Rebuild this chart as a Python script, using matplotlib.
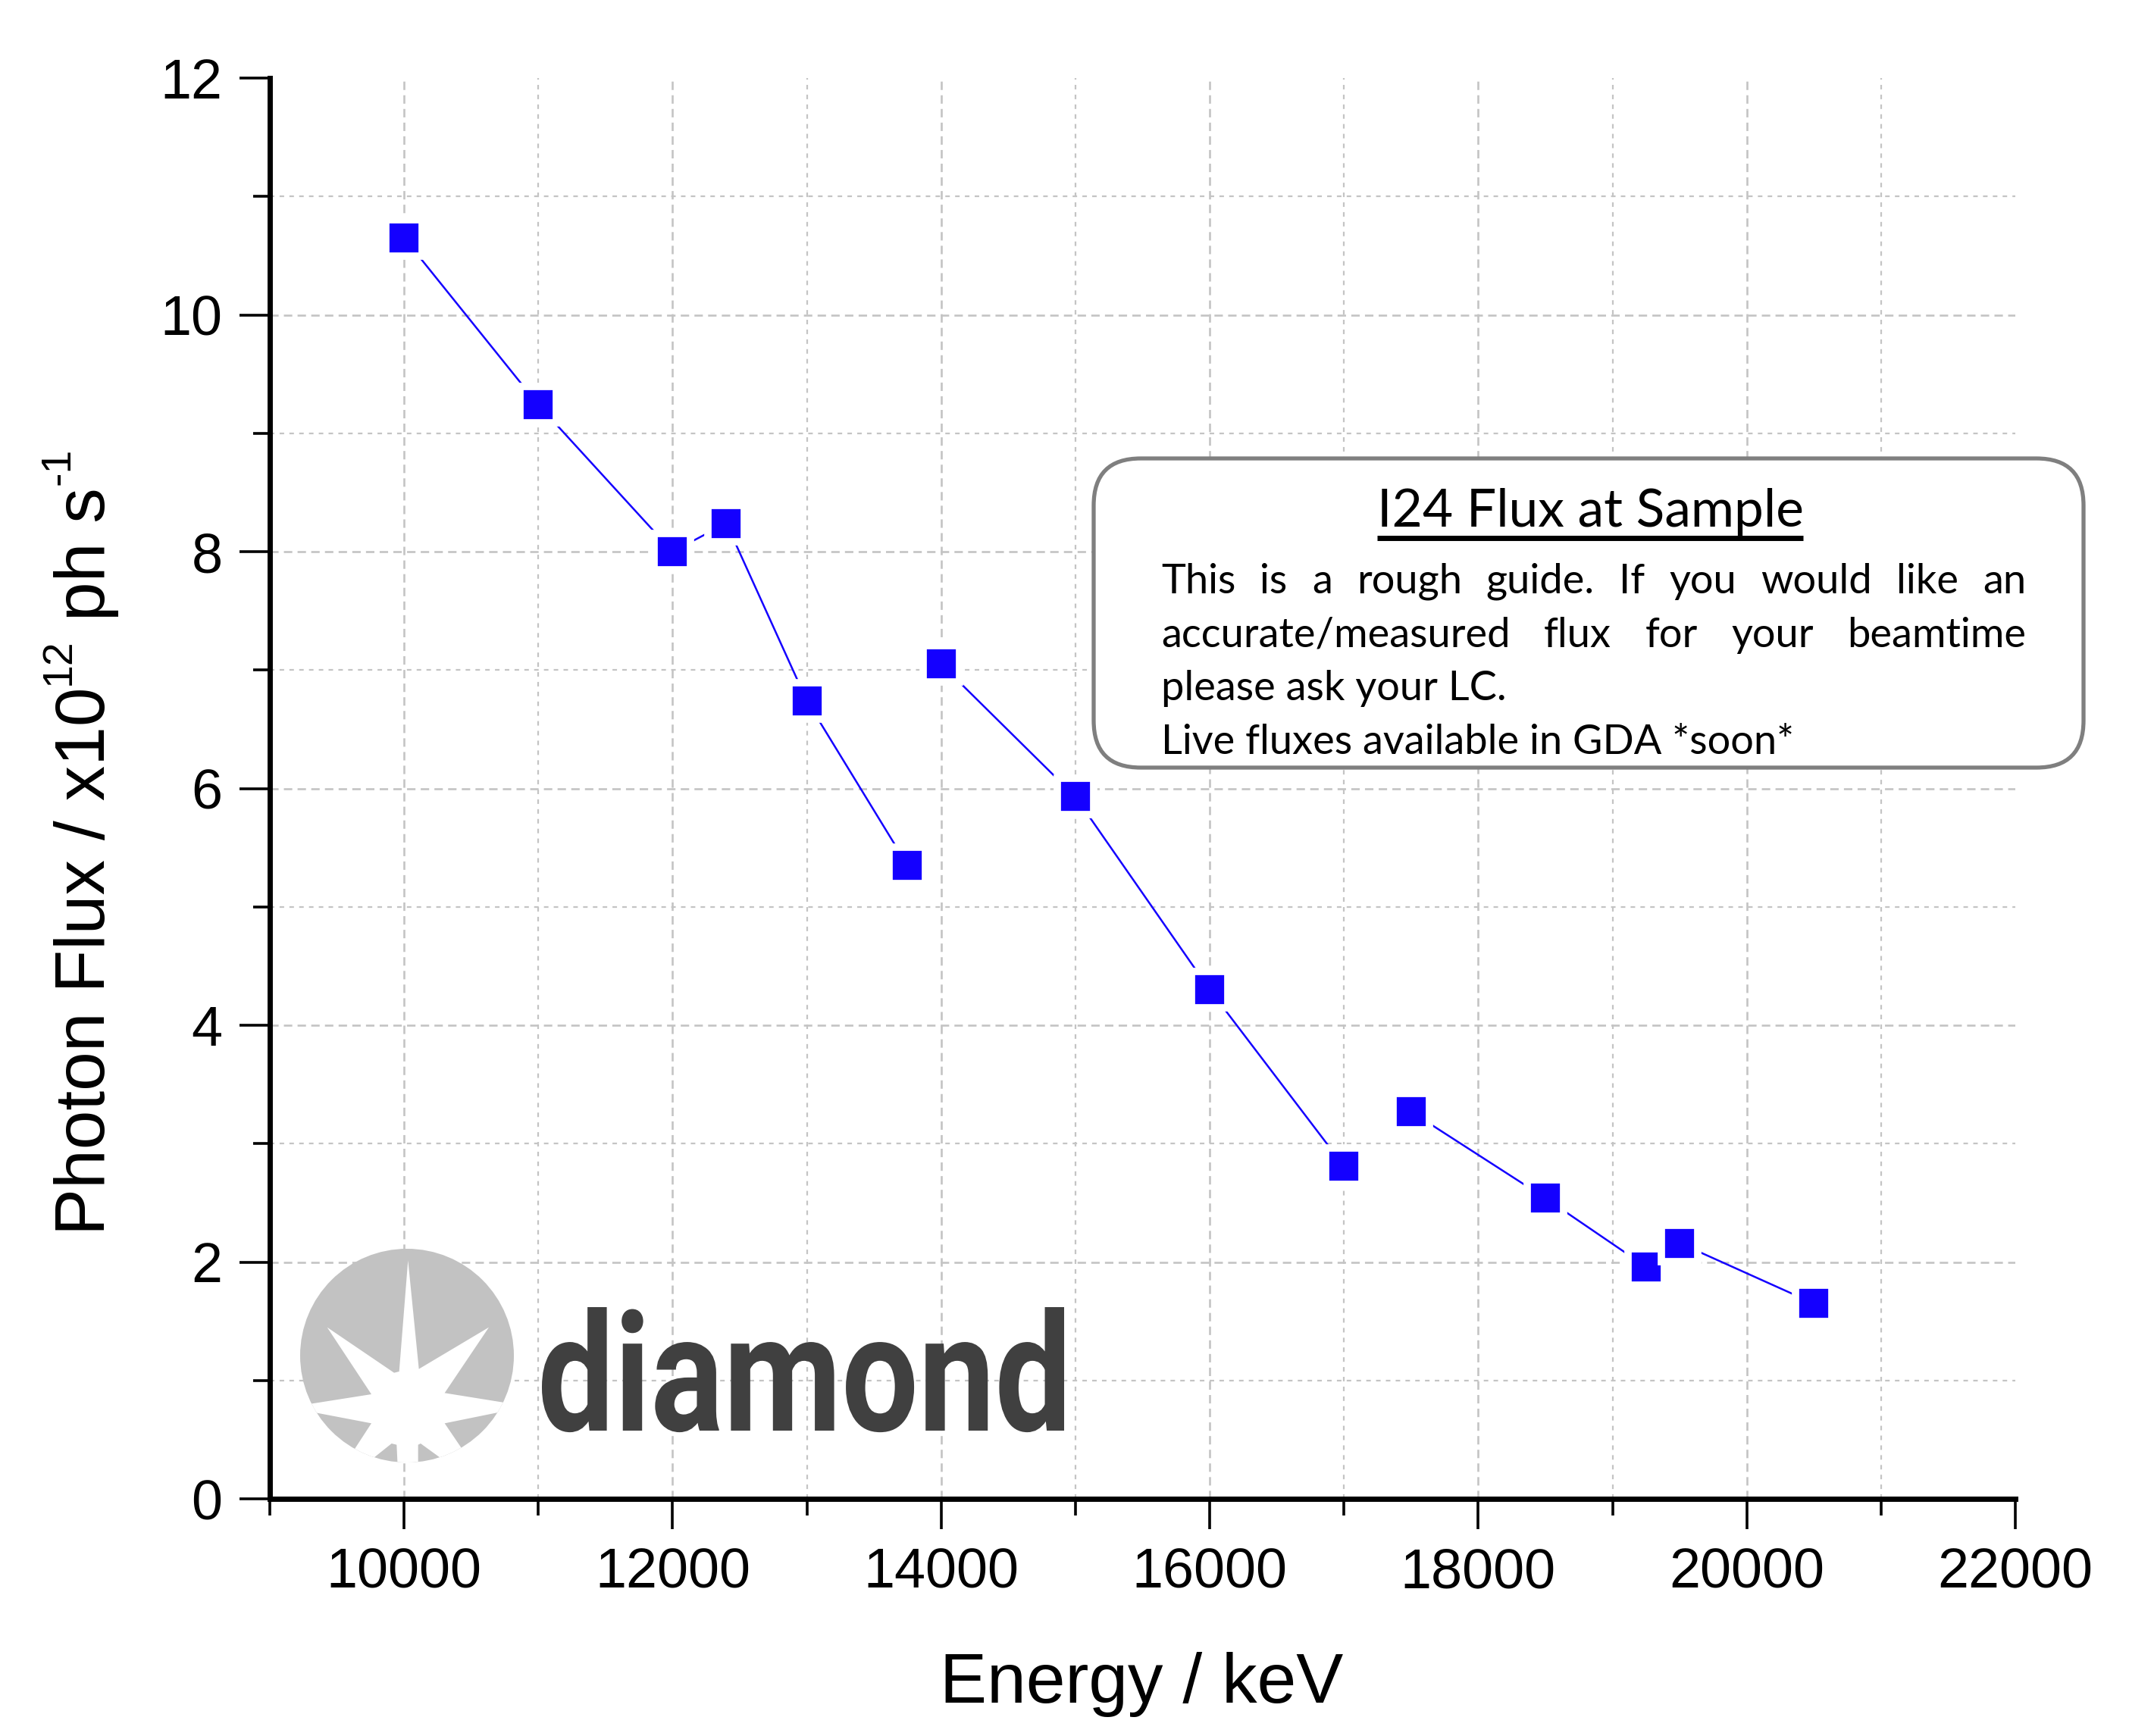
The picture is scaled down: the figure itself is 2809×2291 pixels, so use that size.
import numpy as np
import matplotlib
matplotlib.use("Agg")
import matplotlib.pyplot as plt
from matplotlib.patches import FancyBboxPatch, Circle, Polygon, PathPatch
from matplotlib.textpath import TextPath
from matplotlib.font_manager import FontProperties
from matplotlib.ticker import MultipleLocator
from matplotlib.transforms import Affine2D

# values
energy = [10000, 11000, 12000, 12400, 13000, 13750,
          14000, 15000, 16000, 17000,
          17500, 18500, 19250, 19500, 20500]
flux = [10.65, 9.24, 8.00, 8.24, 6.74, 5.35,
        7.05, 5.93, 4.30, 2.81,
        3.27, 2.54, 1.96, 2.16, 1.65]
segment = [0, 0, 0, 0, 0, 0, 1, 1, 1, 1, 2, 2, 2, 2, 2]

# y label pieces: (text, is_superscript)
ylabel_parts = [("Photon Flux / x10", False), ("12", True),
                (" ph s", False), ("-1", True)]

box_title = "I24 Flux at Sample"
box_lines = ["This is a rough guide. If you would like an",
             "accurate/measured flux for your beamtime",
             "please ask your LC.",
             "Live fluxes available in GDA *soon*"]
box_justify = [True, True, False, False]

W, H = 2809, 2291
plt.rcParams['font.family'] = ['Liberation Sans', 'DejaVu Sans']
plt.rcParams['lines.scale_dashes'] = False

fig = plt.figure(figsize=(W / 100, H / 100), dpi=100)
ax = fig.add_axes([356 / W, (H - 1978) / H, 2303 / W, 1875 / H])

ax.set_xlim(9000, 22000)
ax.set_ylim(0, 12)
ax.xaxis.set_major_locator(MultipleLocator(2000))
ax.xaxis.set_minor_locator(MultipleLocator(1000))
ax.yaxis.set_major_locator(MultipleLocator(2))
ax.yaxis.set_minor_locator(MultipleLocator(1))

# grid only on the inner ticks (none on the frame edges)
grid_col = '#c4c4c4'
for xv in np.arange(10000, 22000, 1000):
    if xv % 2000 == 0:
        ax.axvline(xv, color=grid_col, lw=1.9, ls=(0, (8, 5)), zorder=0)
    else:
        ax.axvline(xv, color=grid_col, lw=1.6, ls=(0, (4.3, 5)), zorder=0)
for yv in np.arange(1, 12, 1):
    if yv % 2 == 0:
        ax.axhline(yv, color=grid_col, lw=1.9, ls=(0, (8, 5)), zorder=0)
    else:
        ax.axhline(yv, color=grid_col, lw=1.6, ls=(0, (4.3, 5)), zorder=0)

e = np.array(energy)
f = np.array(flux)
s = np.array(segment)
for k in np.unique(s):
    m = s == k
    ax.plot(e[m], f[m], color='#1400ff', lw=1.8, marker='s', ms=35,
            mfc='#1400ff', mec='white', mew=7, zorder=3)

for sp in ['top', 'right']:
    ax.spines[sp].set_visible(False)
for sp in ['left', 'bottom']:
    ax.spines[sp].set_linewidth(5)
ax.tick_params(which='major', direction='out', length=29, width=2.6,
               labelsize=53)
ax.tick_params(which='minor', direction='out', length=16, width=2.6)
ax.tick_params(axis='x', which='major', pad=17)
ax.tick_params(axis='y', which='major', pad=16)

# overlay in pixel coordinates for labels, note box and logo
ov = fig.add_axes([0, 0, 1, 1], zorder=5)
ov.set_xlim(0, W)
ov.set_ylim(H, 0)
ov.axis('off')
ov.patch.set_alpha(0)
renderer = fig.canvas.get_renderer()

ov.text(1506, 2247, "Energy / keV", fontsize=67, ha='center', va='baseline')

# rotated y label built from pieces so the superscripts match
yl = 1630
for txt, sup in ylabel_parts:
    if sup:
        o = ov.text(92, yl - 3, txt, fontsize=40, rotation=90,
                    rotation_mode='anchor', ha='left', va='baseline')
    else:
        o = ov.text(138, yl, txt, fontsize=67, rotation=90,
                    rotation_mode='anchor', ha='left', va='baseline')
    yl -= o.get_window_extent(renderer).height

# note box
box = FancyBboxPatch((1443, 605), 2749 - 1443, 1013 - 605,
                     boxstyle="round,pad=0,rounding_size=62",
                     fc='white', ec='#7f7f7f', lw=3.8)
ov.add_patch(box)

body_font = ['Lato', 'DejaVu Sans']
t = ov.text(2098, 695, box_title, fontsize=50, family=body_font,
            ha='center', va='baseline')
bb = t.get_window_extent(renderer)
ov.plot([bb.x0, bb.x1], [710, 710], color='black', lw=5,
        solid_capstyle='butt')

x_left, x_right = 1532, 2673
for i, line in enumerate(box_lines):
    yb = 783 + 70.7 * i
    if not box_justify[i]:
        ov.text(x_left, yb, line, fontsize=39, family=body_font,
                ha='left', va='baseline')
        continue
    words = line.split(' ')
    objs = [ov.text(0, yb, w, fontsize=39, family=body_font,
                    ha='left', va='baseline') for w in words]
    widths = [o.get_window_extent(renderer).width for o in objs]
    gap = (x_right - x_left - sum(widths)) / (len(words) - 1)
    xp = x_left
    for o, wd in zip(objs, widths):
        o.set_x(xp)
        xp += wd + gap

# diamond logo
cx, cy, r = 537, 1789, 141
circ = Circle((cx, cy), r, fc='#c2c2c2', ec='none')
ov.add_patch(circ)
star_z = [(475, 100), (518, 530), (795, 365), (620, 625), (950, 678),
          (620, 745), (732, 910), (664, 926), (525, 825), (515, 830),
          (515, 980), (437, 980), (430, 830), (410, 825), (290, 921),
          (226, 905), (330, 745), (0, 682), (330, 630), (155, 365),
          (420, 545), (440, 540)]
star = [(380 + zx / 3, 1630 + zy / 3) for zx, zy in star_z]
sp_ = Polygon(star, closed=True, fc='white', ec='none')
ov.add_patch(sp_)
sp_.set_clip_path(circ)

tp = TextPath((0, 0), "diamond", size=100,
              prop=FontProperties(family='Roboto', weight='bold'))
ext = tp.get_extents()
sx = (1404 - 715) / ext.width
sy = (1888 - 1725) / ext.y1
tr = Affine2D().translate(-ext.x0, 0).scale(sx, -sy).translate(715, 1888)
ov.add_patch(PathPatch(tr.transform_path(tp), fc='#404040', ec='none'))

fig.savefig("out.png", dpi=100)
